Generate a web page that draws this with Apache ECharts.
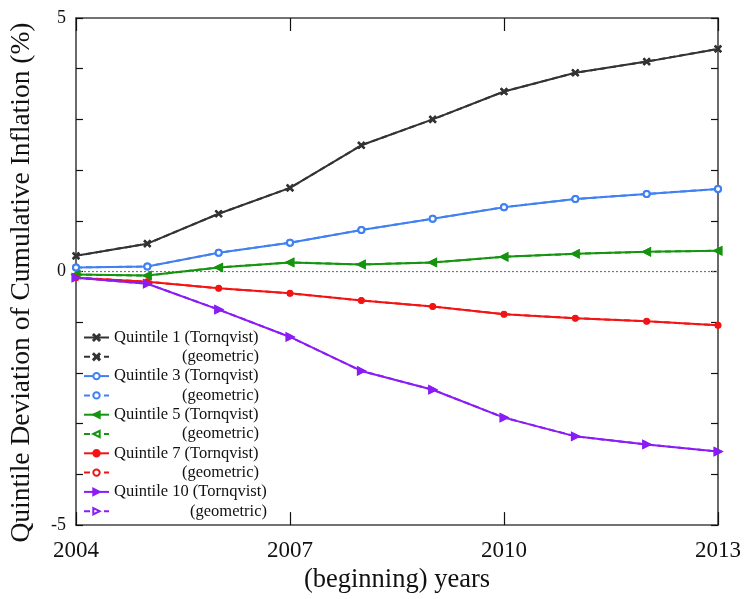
<!DOCTYPE html>
<html>
<head>
<meta charset="utf-8">
<title>Quintile Deviation of Cumulative Inflation</title>
<script src="https://cdn.jsdelivr.net/npm/echarts@6/dist/echarts.min.js"></script>
<style>
  html, body { margin: 0; padding: 0; background: #fff; }
  #chart { width: 744px; height: 599px; }
</style>
</head>
<body>
<div id="chart"></div>
<script>
// Years on the horizontal axis
const years = [2004, 2005, 2006, 2007, 2008, 2009, 2010, 2011, 2012, 2013];

// Deviation of cumulative inflation from the aggregate, in percent (Tornqvist index)
const q1Tornqvist  = [0.31, 0.55, 1.14, 1.65, 2.49, 3.00, 3.55, 3.92, 4.14, 4.39];
const q3Tornqvist  = [0.08, 0.10, 0.37, 0.57, 0.82, 1.04, 1.27, 1.43, 1.53, 1.63];
const q5Tornqvist  = [-0.06, -0.08, 0.08, 0.18, 0.14, 0.18, 0.29, 0.35, 0.39, 0.41];
const q7Tornqvist  = [-0.12, -0.20, -0.33, -0.43, -0.57, -0.69, -0.84, -0.92, -0.98, -1.06];
const q10Tornqvist = [-0.12, -0.24, -0.75, -1.29, -1.96, -2.33, -2.88, -3.25, -3.41, -3.55];

// Geometric index: indistinguishable from the Tornqvist path at this scale
const q1Geometric  = q1Tornqvist.slice();
const q3Geometric  = q3Tornqvist.slice();
const q5Geometric  = q5Tornqvist.slice();
const q7Geometric  = q7Tornqvist.slice();
const q10Geometric = q10Tornqvist.slice();

// Axis ticks
const xTicks = [2004, 2007, 2010, 2013];
const yLabelled = [-5, 0, 5];

const FONT = '"Liberation Serif", "DejaVu Serif", serif';
const AXIS_COLOR = '#444';

function pairs(vals) {
  return years.map((y, i) => [y, vals[i]]);
}

const crossPath = 'path://M0,1 L1,0 L5,4 L9,0 L10,1 L6,5 L10,9 L9,10 L5,6 L1,10 L0,9 L4,5 Z';

const groups = [
  { q: 1,  color: '#333333', t: q1Tornqvist,  g: q1Geometric,  sym: crossPath,  gsym: crossPath,       size: 6, rot: 0 },
  { q: 3,  color: '#3f80f2', t: q3Tornqvist,  g: q3Geometric,  sym: 'emptyCircle', gsym: 'emptyCircle', size: 6, rot: 0 },
  { q: 5,  color: '#15940f', t: q5Tornqvist,  g: q5Geometric,  sym: 'triangle', gsym: 'emptyTriangle', size: 7, rot: 90 },
  { q: 7,  color: '#f21414', t: q7Tornqvist,  g: q7Geometric,  sym: 'circle',   gsym: 'emptyCircle',   size: 5, rot: 0 },
  { q: 10, color: '#8a1cf5', t: q10Tornqvist, g: q10Geometric, sym: 'triangle', gsym: 'emptyTriangle', size: 7, rot: -90 }
];

// Measure legend text so "(geometric)" lines up with the end of its Tornqvist row
const measureCtx = document.createElement('canvas').getContext('2d');
const LEGEND_FONT_SIZE = 16.5;
const LEGEND_ROW = 14;
measureCtx.font = LEGEND_FONT_SIZE + 'px ' + FONT;

const legendRich = {};
const legendNames = [];
const series = [];

groups.forEach(gr => {
  const tName = 'Quintile ' + gr.q + ' (Tornqvist)';
  const gName = 'Quintile ' + gr.q + ' (geometric)';
  legendNames.push(tName, gName);
  const w = Math.ceil(measureCtx.measureText(tName).width);
  const base = { width: w, height: LEGEND_ROW, lineHeight: LEGEND_ROW, fontSize: LEGEND_FONT_SIZE, fontFamily: FONT, color: '#111' };
  legendRich['t' + gr.q] = Object.assign({ align: 'left' }, base);
  legendRich['g' + gr.q] = Object.assign({ align: 'right' }, base);

  series.push({
    name: gName,
    type: 'line',
    data: pairs(gr.g),
    symbol: gr.gsym,
    symbolSize: gr.size,
    symbolRotate: gr.rot,
    showAllSymbol: true,
    z: 2,
    lineStyle: { color: gr.color, width: 2, type: [6, 4] },
    itemStyle: { color: gr.color, borderColor: gr.color, borderWidth: 1.5 },
    emphasis: { disabled: true }
  });
  series.push({
    name: tName,
    type: 'line',
    data: pairs(gr.t),
    symbol: gr.sym,
    symbolSize: gr.size,
    symbolRotate: gr.rot,
    showAllSymbol: true,
    z: 3,
    lineStyle: { color: gr.color, width: 2 },
    itemStyle: { color: gr.color, borderColor: gr.color, borderWidth: 1.5 },
    emphasis: { disabled: true }
  });
});

// Dotted zero reference line
series.unshift({
  name: 'zero',
  type: 'line',
  data: [[years[0], 0], [years[years.length - 1], 0]],
  symbol: 'none',
  z: 1,
  lineStyle: { color: '#777', width: 1.2, type: [2, 2] },
  emphasis: { disabled: true },
  silent: true
});

const chart = echarts.init(document.getElementById('chart'), null, { renderer: 'canvas' });

chart.setOption({
  animation: false,
  backgroundColor: '#fff',
  grid: { left: 72, right: 26, top: 18, bottom: 71, containLabel: false },
  legend: {
    data: legendNames,
    orient: 'vertical',
    left: 83,
    top: 329,
    padding: 0,
    itemWidth: 25,
    itemHeight: 8,
    itemGap: 2.3,
    selectedMode: false,
    textStyle: { fontFamily: FONT, fontSize: LEGEND_FONT_SIZE, lineHeight: LEGEND_ROW, color: '#111', rich: legendRich },
    formatter: name => {
      const q = name.match(/Quintile (\d+)/)[1];
      return name.indexOf('geometric') >= 0 ? '{g' + q + '|(geometric)}' : '{t' + q + '|' + name + '}';
    }
  },
  xAxis: [
    {
      type: 'value',
      position: 'bottom',
      min: xTicks[0],
      max: xTicks[xTicks.length - 1],
      interval: 3,
      name: '(beginning) years',
      nameLocation: 'middle',
      nameGap: 40,
      nameTextStyle: { fontFamily: FONT, fontSize: 26.5, color: '#111' },
      axisLine: { onZero: false, lineStyle: { color: AXIS_COLOR, width: 1.6 } },
      axisTick: { inside: true, length: 13, lineStyle: { color: '#111', width: 1.2 } },
      axisLabel: { fontFamily: FONT, fontSize: 23, color: '#111', margin: 14, formatter: v => String(v) },
      splitLine: { show: false }
    },
    {
      type: 'value',
      position: 'top',
      min: xTicks[0],
      max: xTicks[xTicks.length - 1],
      interval: 3,
      axisLine: { onZero: false, lineStyle: { color: AXIS_COLOR, width: 1.6 } },
      axisTick: { inside: true, length: 13, lineStyle: { color: '#111', width: 1.2 } },
      axisLabel: { show: false },
      splitLine: { show: false }
    }
  ],
  yAxis: [
    {
      type: 'value',
      position: 'left',
      min: -5,
      max: 5,
      interval: 1,
      name: 'Quintile Deviation of Cumulative Inflation (%)',
      nameLocation: 'middle',
      nameGap: 40,
      nameTextStyle: { fontFamily: FONT, fontSize: 27.5, color: '#111', padding: [0, 22, 0, 0] },
      axisLine: { onZero: false, lineStyle: { color: AXIS_COLOR, width: 1.6 } },
      axisTick: { inside: true, length: 7, lineStyle: { color: '#111', width: 1.2 } },
      axisLabel: {
        fontFamily: FONT, fontSize: 18, color: '#111', margin: 10,
        formatter: v => (yLabelled.indexOf(v) >= 0 ? String(v) : '')
      },
      splitLine: { show: false }
    },
    {
      type: 'value',
      position: 'right',
      min: -5,
      max: 5,
      interval: 1,
      axisLine: { onZero: false, lineStyle: { color: AXIS_COLOR, width: 1.6 } },
      axisTick: { inside: true, length: 7, lineStyle: { color: '#111', width: 1.2 } },
      axisLabel: { show: false },
      splitLine: { show: false }
    }
  ],
  series: series
});
</script>
</body>
</html>
